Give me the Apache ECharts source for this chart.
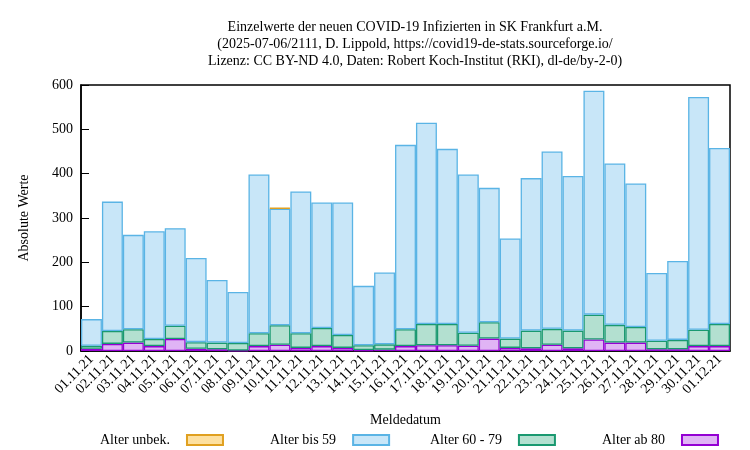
<!DOCTYPE html><html><head><meta charset="utf-8"><script src="https://cdn.jsdelivr.net/npm/echarts@6/dist/echarts.min.js"></script></head><body style="margin:0"><div id="c" style="width:750px;height:450px"></div><script>
const categories=['01.11.21','02.11.21','03.11.21','04.11.21','05.11.21','06.11.21','07.11.21','08.11.21','09.11.21','10.11.21','11.11.21','12.11.21','13.11.21','14.11.21','15.11.21','16.11.21','17.11.21','18.11.21','19.11.21','20.11.21','21.11.21','22.11.21','23.11.21','24.11.21','25.11.21','26.11.21','27.11.21','28.11.21','29.11.21','30.11.21','01.12.21'];
const total=[72,337,262,270,277,210,160,133,398,323,360,335,335,147,177,465,515,456,398,368,254,390,450,395,587,423,378,176,203,573,458];
const unbek=[0,0,0,0,0,0,0,0,0,2,0,0,0,0,0,0,0,0,0,0,0,0,0,0,0,0,0,0,0,0,0];
const ab60=[12,45,49,27,57,20,19,18,40,58,40,52,36,13,15,49,61,61,41,65,28,46,50,46,82,59,54,23,25,48,61];
const ab80=[5,16,19,11,27,5,4,1,11,14,7,11,7,2,3,11,13,13,12,28,7,6,14,6,26,19,19,4,4,11,11];
const s80=ab80, s6079=ab60.map((v,i)=>v-ab80[i]), s59=total.map((v,i)=>v-unbek[i]-ab60[i]);
const sUnb=unbek.map(v=>v>0?v:null);
const F='Liberation Serif';
function bar(name,data,fill,border){return{name,type:'bar',stack:'a',data,barCategoryGap:'0%',itemStyle:{color:fill,borderColor:border,borderWidth:1.3}};}
const names=['Alter unbek.','Alter bis 59','Alter 60 - 79','Alter ab 80'];
const lx=[95,265,425,597];
const ch=echarts.init(document.getElementById('c'));
ch.setOption({animation:false,textStyle:{fontFamily:F},
title:{text:'Einzelwerte der neuen COVID-19 Infizierten in SK Frankfurt a.M.\n(2025-07-06/2111, D. Lippold, https://covid19-de-stats.sourceforge.io/\nLizenz: CC BY-ND 4.0, Daten: Robert Koch-Institut (RKI), dl-de/by-2-0)',left:410,top:14,textAlign:'center',textStyle:{fontFamily:F,fontSize:14,fontWeight:'normal',lineHeight:17,color:'#000'}},
legend:names.map((n,i)=>({data:[n],left:lx[i],top:428,align:'right',itemWidth:36,itemHeight:10,itemGap:0,textStyle:{fontFamily:F,fontSize:14,color:'#000',padding:[0,12,0,0]},icon:'rect',selectedMode:false})),
grid:{left:81,right:20,top:85,bottom:99,show:true,borderColor:'#000',borderWidth:1.5},
xAxis:{type:'category',data:categories,name:'Meldedatum',nameLocation:'middle',nameGap:62,nameTextStyle:{fontSize:14,color:'#000'},axisLine:{lineStyle:{color:'#000',width:1.5}},axisTick:{alignWithLabel:true,inside:true,lineStyle:{color:'#000'}},axisLabel:{rotate:45,interval:0,fontSize:14,color:'#000',margin:6}},
yAxis:{type:'value',min:0,max:600,interval:100,name:'Absolute Werte',nameLocation:'middle',nameGap:50,nameTextStyle:{fontSize:14,color:'#000'},splitLine:{show:false},axisLine:{show:true,lineStyle:{color:'#000',width:1.5}},axisTick:{show:true,inside:true,length:8,lineStyle:{color:'#000'}},axisLabel:{fontSize:14,color:'#000'}},
series:[bar('Alter ab 80',s80,'#e0b4f5','#9400d3'),bar('Alter 60 - 79',s6079,'#b3e0d0','#1a9970'),bar('Alter bis 59',s59,'#c8e6f8','#5ab4e5'),bar('Alter unbek.',sUnb,'#fde0a0','#e0a020')]
});
</script></body></html>
